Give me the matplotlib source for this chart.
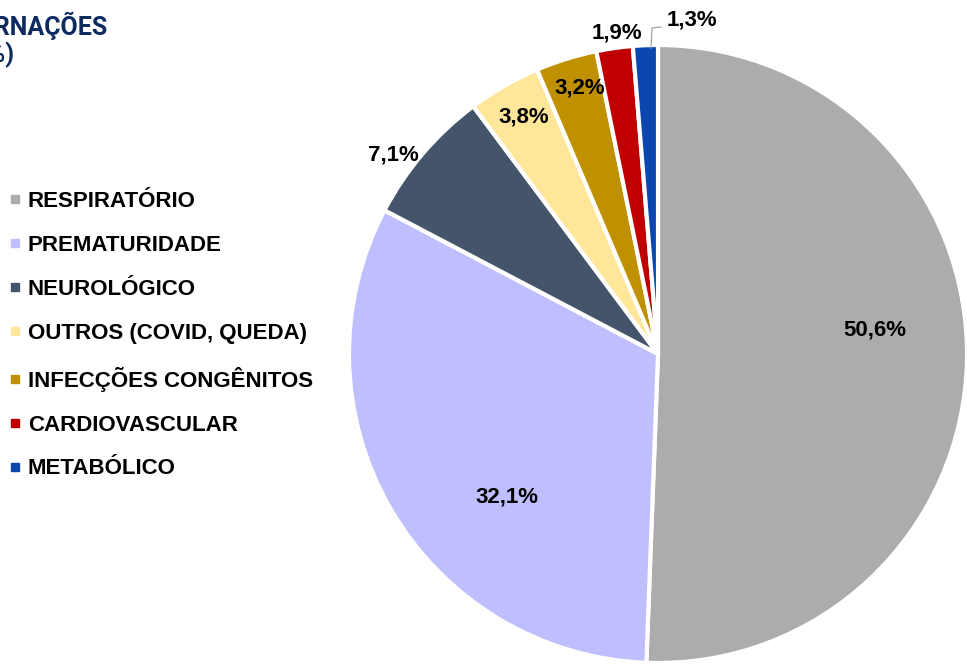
import matplotlib
matplotlib.use("Agg")
import matplotlib.pyplot as plt
from matplotlib.lines import Line2D

categories = ['RESPIRATÓRIO', 'PREMATURIDADE', 'NEUROLÓGICO', 'OUTROS (COVID, QUEDA)',
              'INFECÇÕES CONGÊNITOS', 'CARDIOVASCULAR', 'METABÓLICO']
values = [50.6, 32.1, 7.1, 3.8, 3.2, 1.9, 1.3]
labels = ['50,6%', '32,1%', '7,1%', '3,8%', '3,2%', '1,9%', '1,3%']
colors = ['#AEABAB', '#BFBFFF', '#44546A', '#FFE699', '#BF9000', '#C00000', '#0C47B0']

# label positions in pixels (x from left, y from top)
label_pos = [(875, 330), (507, 497), (393, 155), (524, 117), (580, 88), (617, 33), (692, 20)]

W, H = 967, 668
fig = plt.figure(figsize=(W / 100, H / 100), dpi=100)
ax = fig.add_axes([0, 0, 1, 1])

cx, cy, r = 658, H - 354, 309
explode = [0.026, 0, 0, 0, 0, 0, 0]
wedges, _ = ax.pie(values, colors=colors, startangle=90, counterclock=False,
                   center=(cx, cy), radius=r, explode=explode,
                   wedgeprops=dict(edgecolor='white', linewidth=3),
                   frame=True)
ax.set_xlim(0, W)
ax.set_ylim(0, H)
ax.set_aspect('auto')
ax.axis('off')

for lab, (px, py) in zip(labels, label_pos):
    ax.text(px, H - py, lab, ha='center', va='center', fontsize=16,
            fontweight='bold', family='Liberation Sans', color='black')

# leader line for the smallest slice
ax.plot([651, 652, 661], [H - 48, H - 28, H - 27], color='#A6A6A6', lw=0.9)

# legend
handles = [Line2D([0], [0], marker='s', linestyle='none', markersize=5.8,
                  markerfacecolor=c, markeredgecolor=c) for c in colors]
leg = ax.legend(handles, categories, loc='upper left',
                bbox_to_anchor=(11 / W, 1 - 191 / H),
                frameon=False, handlelength=0.36, handletextpad=0.4, labelspacing=1.03,
                borderaxespad=0, borderpad=0.0,
                prop=dict(family='Liberation Sans', weight='bold', size=16))

# cropped title
title_color = '#0D2B5E'
fig.text(107 / W, 1 - 26 / H, 'INTERNAÇÕES', ha='right', va='center', fontsize=18,
         fontweight='bold', family='Roboto', color=title_color)
fig.text(15 / W, 1 - 55 / H, '(%)', ha='right', va='center', fontsize=18,
         fontweight='bold', family='Roboto', color=title_color)

fig.savefig('out.png', dpi=100)
